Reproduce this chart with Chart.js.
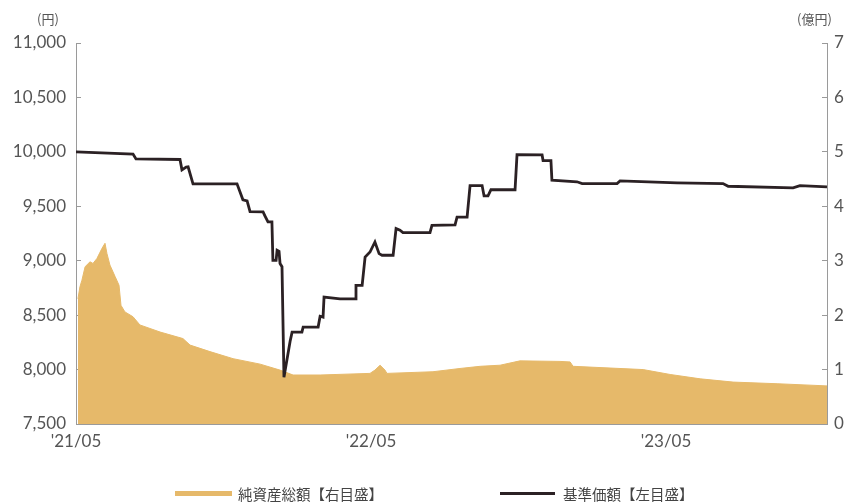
<!DOCTYPE html>
<html>
<head>
<meta charset="utf-8">
<script src="https://cdn.jsdelivr.net/npm/chart.js@4.4.1/dist/chart.umd.min.js"></script>
<style>
  html, body { margin: 0; padding: 0; background: #fff; }
  #wrap { position: relative; width: 848px; height: 503px; overflow: hidden; background:#fff; }
  canvas { position: absolute; left: 0; top: 0; }
  .unit { position: absolute; font-family: 'Noto Sans CJK JP', sans-serif; font-size: 13px; color: #555; line-height: 15px; }
  .leg { position: absolute; font-family: 'Noto Sans CJK JP', sans-serif; font-size: 14.5px; color: #444; line-height: 16px; white-space: nowrap; }
  .sw { position: absolute; }
</style>
</head>
<body>
<div id="wrap">
  <canvas id="c" width="848" height="503"></canvas>
  <div class="unit" style="left:37px; top:11px;">(円)</div>
  <div class="unit" style="left:797px; top:11px;">(億円)</div>
  <div class="sw" style="left:175px; top:491px; width:57px; height:5px; background:#E6B96A;"></div>
  <div class="leg" style="left:238px; top:486px;">純資産総額【右目盛】</div>
  <div class="sw" style="left:500px; top:492px; width:55px; height:3px; background:#2B2124;"></div>
  <div class="leg" style="left:563px; top:486px;">基準価額【左目盛】</div>
</div>
<script>
// x values are months since 2021/05
const xTickValues = [0, 12, 24];
const xTickLabels = ["'21/05", "'22/05", "'23/05"];
const xMax = 30.55;

// 基準価額 (円, left axis) – polyline vertices
const navX = [0.00, 2.32, 2.44, 4.23, 4.31, 4.48, 4.56, 4.76, 6.55, 6.79, 6.96, 7.08, 7.61, 7.69, 7.81, 7.97,
  8.01, 8.14, 8.18, 8.26, 8.30, 8.38, 8.46, 8.71, 8.79, 9.19, 9.24, 9.85, 9.93, 10.05, 10.09, 10.74, 11.35,
  11.39, 11.64, 11.76, 11.96, 12.16, 12.33, 12.45, 12.90, 13.02, 13.18, 13.30, 14.40, 14.48, 15.42, 15.50,
  15.91, 16.03, 16.52, 16.60, 16.76, 16.88, 17.86, 17.94, 18.96, 19.00, 19.32, 19.36, 20.38, 20.59, 22.01,
  22.13, 24.45, 26.32, 26.53, 29.17, 29.45, 30.55];
const navY = [10000, 9980, 9935, 9930, 9835, 9860, 9862, 9706, 9706, 9560, 9550, 9450, 9448, 9410, 9356, 9356,
  9003, 9003, 9095, 9085, 8975, 8945, 7930, 8260, 8344, 8344, 8390, 8390, 8490, 8482, 8666, 8650, 8650,
  8773, 8773, 9034, 9080, 9172, 9065, 9050, 9050, 9295, 9280, 9258, 9258, 9325, 9330, 9400,
  9400, 9690, 9690, 9595, 9595, 9652, 9652, 9975, 9972, 9920, 9920, 9739, 9725, 9709, 9709,
  9733, 9715, 9709, 9684, 9669, 9690, 9678];

// 純資産総額 (億円, right axis)
const aumX = [0.08, 0.16, 0.24, 0.37, 0.57, 0.69, 0.85, 1.06, 1.18, 1.26, 1.38, 1.59, 1.75, 1.83, 1.99, 2.32,
  2.60, 3.42, 4.35, 4.64, 5.45, 6.39, 7.49, 8.30, 8.83, 9.93, 11.96, 12.16, 12.37, 12.57, 12.65, 14.52,
  15.62, 16.44, 17.25, 18.06, 19.69, 20.10, 20.22, 23.07, 24.17, 25.39, 26.73, 28.52, 30.55];
const aumY = [2.30, 2.52, 2.64, 2.89, 2.98, 2.95, 3.04, 3.23, 3.32, 3.13, 2.92, 2.71, 2.55, 2.18, 2.06, 1.97,
  1.82, 1.69, 1.57, 1.45, 1.33, 1.20, 1.10, 0.99, 0.90, 0.90, 0.93, 0.99, 1.08, 0.99, 0.93, 0.96,
  1.02, 1.06, 1.08, 1.16, 1.15, 1.14, 1.06, 1.00, 0.91, 0.83, 0.77, 0.74, 0.70];

const leftMin = 7500, leftMax = 11000, leftStep = 500;
const rightMin = 0, rightMax = 7, rightStep = 1;

const tickFont = { family: "Lato, 'Noto Sans CJK JP', sans-serif", size: 17 };
const axisGray = '#9a9a9a';

new Chart(document.getElementById('c'), {
  type: 'line',
  data: {
    datasets: [
      {
        label: '基準価額【左目盛】',
        data: navX.map((x, i) => ({ x: x, y: navY[i] })),
        yAxisID: 'yL',
        borderColor: '#2B2124',
        backgroundColor: '#2B2124',
        borderWidth: 2.8,
        pointRadius: 0,
        tension: 0,
        fill: false
      },
      {
        label: '純資産総額【右目盛】',
        data: aumX.map((x, i) => ({ x: x, y: aumY[i] })),
        yAxisID: 'yR',
        borderColor: '#E6B96A',
        backgroundColor: '#E6B96A',
        borderWidth: 1,
        pointRadius: 0,
        tension: 0,
        fill: 'start'
      }
    ]
  },
  options: {
    responsive: false,
    animation: false,
    layout: { padding: { top: 43, left: 0, right: 0, bottom: 0 } },
    plugins: { legend: { display: false }, tooltip: { enabled: false } },
    scales: {
      x: {
        type: 'linear',
        min: 0, max: xMax,
        z: 1,
        afterBuildTicks: (s) => { s.ticks = xTickValues.map(v => ({ value: v })); },
        afterFit: (s) => { s.height = 79; },
        ticks: {
          autoSkip: false,
          maxRotation: 0,
          padding: 12,
          color: '#555',
          font: tickFont,
          callback: (v) => { const i = xTickValues.indexOf(v); return i >= 0 ? xTickLabels[i] : ''; }
        },
        grid: { display: true, drawOnChartArea: false, drawTicks: true, tickLength: -5, tickColor: axisGray },
        border: { display: true, color: axisGray, width: 1 }
      },
      yL: {
        type: 'linear',
        position: 'left',
        min: leftMin, max: leftMax,
        afterFit: (s) => { s.width = 76; },
        ticks: {
          stepSize: leftStep,
          padding: 15,
          color: '#555',
          font: tickFont,
          callback: (v) => v.toLocaleString('en-US')
        },
        grid: { display: true, drawOnChartArea: false, drawTicks: true, tickLength: -5, tickColor: axisGray },
        border: { display: true, color: axisGray, width: 1 }
      },
      yR: {
        type: 'linear',
        position: 'right',
        min: rightMin, max: rightMax,
        afterFit: (s) => { s.width = 21; },
        ticks: {
          stepSize: rightStep,
          padding: 12,
          color: '#555',
          font: tickFont
        },
        grid: { display: true, drawOnChartArea: false, drawTicks: true, tickLength: -5, tickColor: axisGray },
        border: { display: true, color: axisGray, width: 1 }
      }
    }
  }
});
</script>
</body>
</html>
